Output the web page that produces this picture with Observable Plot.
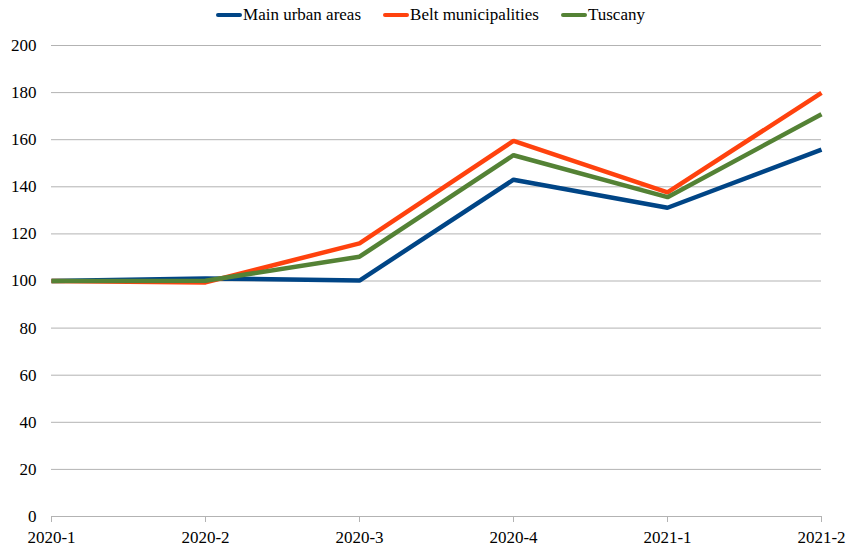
<!DOCTYPE html>
<html>
<head>
<meta charset="utf-8">
<script src="https://cdn.jsdelivr.net/npm/d3@7"></script>
<script src="https://cdn.jsdelivr.net/npm/@observablehq/plot@0.6"></script>
<style>
  html, body { margin: 0; padding: 0; background: #fff; }
  #legend { height: 30px; display: flex; justify-content: center; align-items: center; gap: 22px;
    font-family: "Liberation Serif", Tinos, "Times New Roman", Times, "DejaVu Serif", serif; font-size: 17px; color: #000; padding-left: 10px; box-sizing: border-box; }
  .item { display: flex; align-items: center; }
  .sw { width: 26px; height: 4px; border-radius: 2px; margin-right: 1px; }
  svg { overflow: visible; display: block; }
</style>
</head>
<body>
<div id="legend"></div>
<div id="chart"></div>
<script>
const categories = ["2020-1", "2020-2", "2020-3", "2020-4", "2021-1", "2021-2"];
const seriesNames = ["Main urban areas", "Belt municipalities", "Tuscany"];
const mainUrban = [100, 101.1, 100.2, 143.0, 131.1, 155.8];
const belt = [100, 99.4, 116.0, 159.5, 137.6, 179.9];
const tuscany = [100, 100.1, 110.3, 153.4, 135.6, 170.8];
const colors = ["#004586", "#ff420e", "#548235"];
const yTicks = [0, 20, 40, 60, 80, 100, 120, 140, 160, 180, 200];

const seriesValues = [mainUrban, belt, tuscany];
const data = [];
seriesNames.forEach((s, i) => categories.forEach((c, j) => data.push({series: s, period: c, value: seriesValues[i][j]})));

const legend = document.getElementById("legend");
seriesNames.forEach((s, i) => {
  const it = document.createElement("div");
  it.className = "item";
  it.innerHTML = `<span class="sw" style="background:${colors[i]}"></span><span>${s}</span>`;
  legend.appendChild(it);
});

const chart = Plot.plot({
  width: 851,
  height: 519,
  marginLeft: 51,
  marginRight: 30,
  marginTop: 15,
  marginBottom: 33,
  style: {fontFamily: "'Liberation Serif', Tinos, 'Times New Roman', Times, 'DejaVu Serif', serif", fontSize: "17px", color: "#000", background: "#fff"},
  x: {type: "point", domain: categories, padding: 0},
  y: {domain: [0, 200]},
  color: {domain: seriesNames, range: colors},
  marks: [
    Plot.gridY(yTicks, {stroke: "#b3b3b3", strokeOpacity: 1, strokeWidth: 1}),
    Plot.ruleY([0], {stroke: "#b3b3b3"}),
    Plot.axisY(yTicks, {tickSize: 0, tickPadding: 15, label: null, fill: "#000"}),
    Plot.axisX(categories, {tickSize: 6, tickPadding: 8, label: null, stroke: "#b3b3b3", fill: "#000"}),
    Plot.line(data, {x: "period", y: "value", z: "series", stroke: "series", strokeWidth: 4.5, strokeLinejoin: "miter", strokeLinecap: "butt"})
  ]
});
document.getElementById("chart").appendChild(chart);
</script>
</body>
</html>
